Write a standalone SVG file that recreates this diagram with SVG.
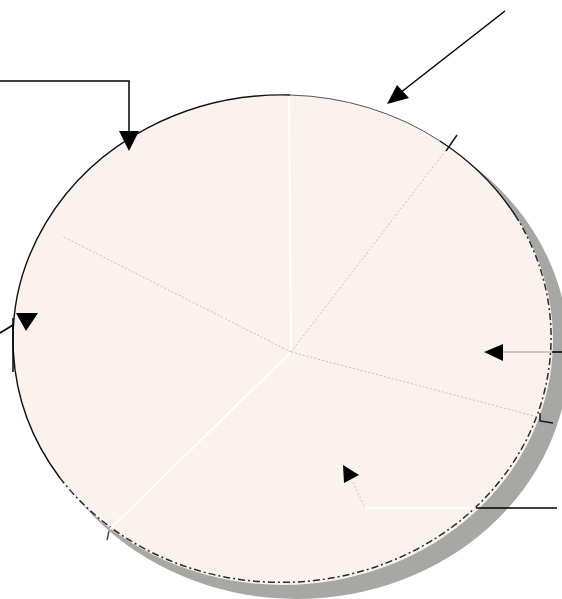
<svg xmlns="http://www.w3.org/2000/svg" width="562" height="599" viewBox="0 0 562 599">
<style>
.edge{fill:none;stroke:#111;stroke-width:1.4}
.edge-thin{fill:none;stroke:#555;stroke-width:1}
.edge-dash{fill:none;stroke:#2a2a2a;stroke-width:1.5;stroke-dasharray:7 3 2 3}
.div-white{stroke:#ffffff;stroke-width:1.8}
.div-dot{stroke:#c4bebb;stroke-width:1;stroke-dasharray:2 2}
.conn{fill:none;stroke:#000;stroke-width:1.5}
.conn-in{fill:none;stroke:#9a9a9a;stroke-width:1}
.head{fill:#000}
.tick{fill:none;stroke:#111;stroke-width:1.4}
</style>
<rect width="562" height="599" fill="#ffffff"/>
<g id="pie">
  <ellipse id="pie-shadow" cx="297" cy="353" rx="272" ry="246" fill="#a7a7a5"/>
  <ellipse id="pie-body" cx="283" cy="340" rx="270" ry="245" fill="#fcf2ed"/>
  <path class="edge" d="M60,478 A270,245 0 0 1 290,95"/>
  <path class="edge-thin" d="M290,95 A270,245 0 0 1 440,141"/>
  <path class="edge" d="M440,141 A270,245 0 0 1 515,215"/>
  <path class="edge-dash" d="M515,215 A270,245 0 0 1 60,478"/>
</g>
<g id="slices">
  <line class="div-white" x1="289" y1="96" x2="291" y2="352"/>
  <line class="div-dot" x1="291" y1="352" x2="446" y2="150"/>
  <line class="div-dot" x1="291" y1="352" x2="538" y2="417"/>
  <line class="div-white" x1="291" y1="352" x2="110" y2="529"/>
  <line class="div-dot" x1="291" y1="352" x2="62" y2="236"/>
  <line class="tick" x1="446" y1="151" x2="457" y2="135"/>
  <polyline class="tick" points="540,413 540,421 553,423"/>
  <line class="tick" x1="109" y1="531" x2="107" y2="540" style="stroke:#444"/>
</g>
<g id="connectors">
  <g id="arrow-top-left">
    <polyline class="conn" points="0,81 129,81 129,134"/>
    <polygon class="head" points="119,131 139,131 129,151"/>
  </g>
  <g id="arrow-top-right">
    <line class="conn" x1="505" y1="11" x2="400" y2="93"/>
    <polygon class="head" points="387,104 397,85 409,98"/>
  </g>
  <g id="arrow-left">
    <polyline class="conn" points="0,333 13,325"/>
    <line class="conn" x1="13" y1="318" x2="13" y2="372"/>
    <polygon class="head" points="16,313 38,313 26,331"/>
  </g>
  <g id="arrow-right">
    <line class="conn-in" x1="503" y1="352" x2="552" y2="352"/>
    <line class="conn" x1="552" y1="352" x2="562" y2="352"/>
    <polygon class="head" points="484,352 503,344 503,361"/>
  </g>
  <g id="arrow-bottom">
    <line x1="353" y1="482" x2="365" y2="508" stroke="#c8c2bf" stroke-width="1" stroke-dasharray="2 2"/>
    <line x1="365" y1="508" x2="476" y2="508" stroke="#ffffff" stroke-width="1.5"/>
    <line class="conn" x1="476" y1="508" x2="557" y2="508"/>
    <polygon class="head" points="343,465 359,475 344,483"/>
  </g>
</g>
</svg>
